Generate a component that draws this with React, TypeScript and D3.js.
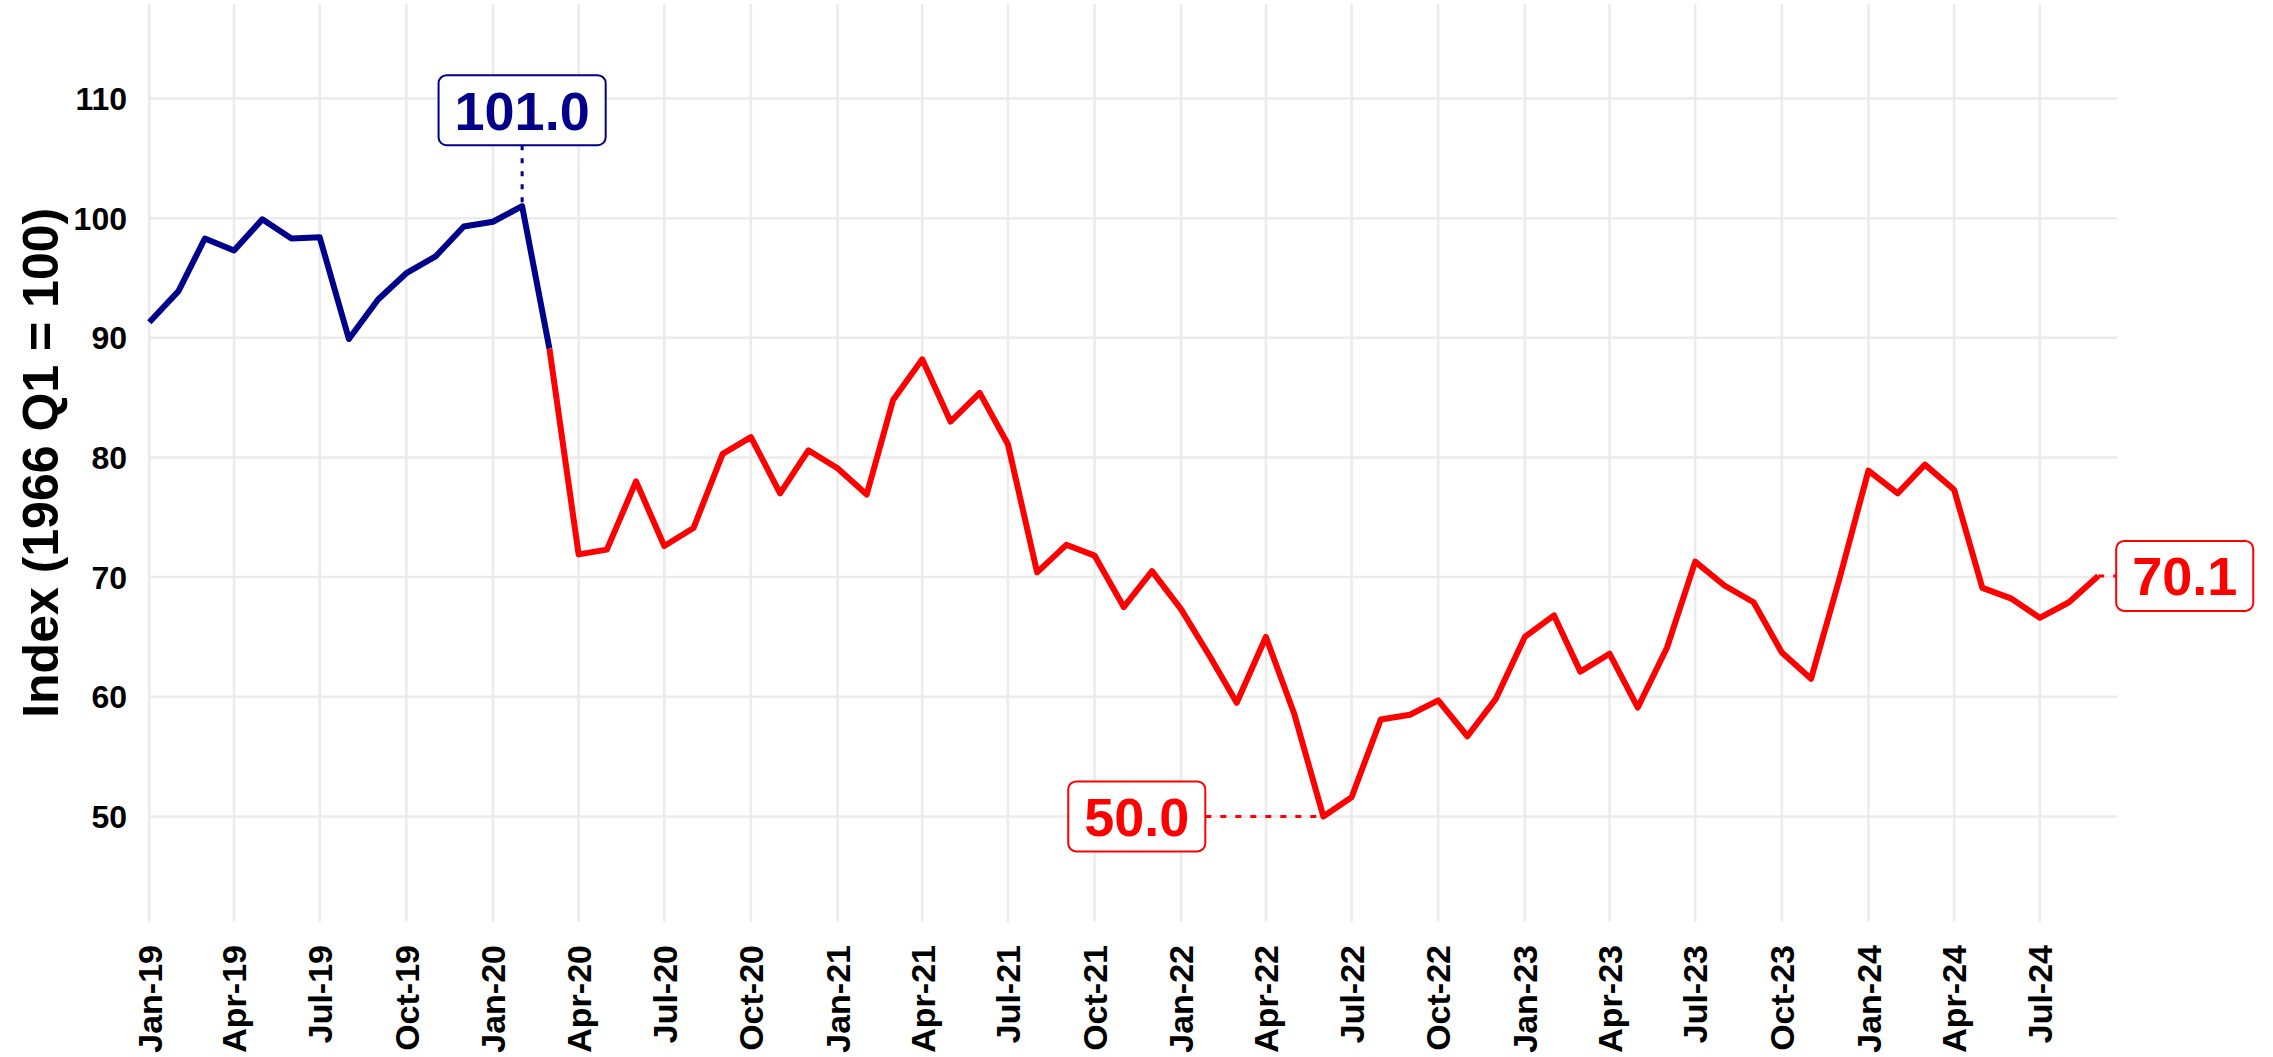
import React from "react";
import * as d3 from "d3";

const months: string[] = [
  "2019-01","2019-02","2019-03","2019-04","2019-05","2019-06","2019-07","2019-08","2019-09","2019-10","2019-11","2019-12",
  "2020-01","2020-02","2020-03","2020-04","2020-05","2020-06","2020-07","2020-08","2020-09","2020-10","2020-11","2020-12",
  "2021-01","2021-02","2021-03","2021-04","2021-05","2021-06","2021-07","2021-08","2021-09","2021-10","2021-11","2021-12",
  "2022-01","2022-02","2022-03","2022-04","2022-05","2022-06","2022-07","2022-08","2022-09","2022-10","2022-11","2022-12",
  "2023-01","2023-02","2023-03","2023-04","2023-05","2023-06","2023-07","2023-08","2023-09","2023-10","2023-11","2023-12",
  "2024-01","2024-02","2024-03","2024-04","2024-05","2024-06","2024-07","2024-08","2024-09",
];

const values: number[] = [
  91.3, 93.9, 98.3, 97.3, 99.9, 98.3, 98.4, 89.9, 93.2, 95.4, 96.8, 99.3,
  99.7, 101.0, 89.1, 71.9, 72.3, 78.0, 72.6, 74.1, 80.3, 81.7, 77.0, 80.6,
  79.1, 76.9, 84.8, 88.2, 83.0, 85.4, 81.1, 70.4, 72.7, 71.8, 67.5, 70.5,
  67.3, 63.3, 59.5, 65.0, 58.6, 50.0, 51.6, 58.1, 58.5, 59.7, 56.7, 59.8,
  65.0, 66.8, 62.1, 63.6, 59.1, 64.1, 71.3, 69.3, 67.9, 63.7, 61.5, 69.8,
  78.9, 77.0, 79.4, 77.3, 69.1, 68.2, 66.6, 67.9, 70.1,
];

// period split: blue up to and including this month, red from it onward
const splitMonth = "2020-03";

const yTicks: number[] = [50, 60, 70, 80, 90, 100, 110];
const xTickMonths: string[] = [
  "2019-01","2019-04","2019-07","2019-10","2020-01","2020-04","2020-07","2020-10",
  "2021-01","2021-04","2021-07","2021-10","2022-01","2022-04","2022-07","2022-10",
  "2023-01","2023-04","2023-07","2023-10","2024-01","2024-04","2024-07",
];

const yTitle = "Index (1966 Q1 = 100)";
const peakMonth = "2020-02";
const troughMonth = "2022-06";
const lastMonth = "2024-09";

const W = 2273;
const H = 1057;
const BLUE = "#00008B";
const RED = "#FF0000";
const GRID = "#EBEBEB";
const FONT = "'Liberation Sans', Arial, Helvetica, sans-serif";

const parse = d3.timeParse("%Y-%m");
const fmt = d3.timeFormat("%b-%y");

type Pt = { date: Date; value: number; key: string };

function labelWidth(text: string, size: number): number {
  let w = 0;
  for (const ch of text) w += ch === "." ? 0.278 : 0.556;
  return w * size;
}

export default function App() {
  const data: Pt[] = months.map((m, i) => ({ date: parse(m) as Date, value: values[i], key: m }));
  const splitIdx = months.indexOf(splitMonth);
  const blue = data.slice(0, splitIdx + 1);
  const red = data.slice(splitIdx);

  const x = d3
    .scaleTime()
    .domain([parse("2019-01") as Date, new Date(2024, 8, 21)])
    .range([149.3, 2117]);
  const y = d3.scaleLinear().domain([41.2, 117.9]).range([921.7, 4]);

  const line = d3
    .line<Pt>()
    .x((d) => x(d.date))
    .y((d) => y(d.value));

  const xTicks = xTickMonths.map((m) => parse(m) as Date);
  const plotTop = y(117.9);
  const plotBottom = y(41.2);
  const plotLeft = x.range()[0];
  const plotRight = x.range()[1];

  const LS = 54; // label font size
  const padX = 16;
  const boxH = 70;

  const peak = data.find((d) => d.key === peakMonth)!;
  const trough = data.find((d) => d.key === troughMonth)!;
  const last = data.find((d) => d.key === lastMonth)!;

  const renderLabel = (
    text: string,
    color: string,
    cx: number,
    cy: number
  ) => {
    const w = labelWidth(text, LS) + padX * 2;
    return (
      <g>
        <rect
          x={cx - w / 2}
          y={cy - boxH / 2}
          width={w}
          height={boxH}
          rx={8}
          ry={8}
          fill="#fff"
          stroke={color}
          strokeWidth={2}
        />
        <text
          x={cx}
          y={cy}
          dy="0.36em"
          textAnchor="middle"
          fontFamily={FONT}
          fontWeight="bold"
          fontSize={LS}
          fill={color}
        >
          {text}
        </text>
      </g>
    );
  };

  const peakX = x(peak.date);
  const peakY = y(peak.value);
  const peakBoxCy = peakY - 96;

  const troughX = x(trough.date);
  const troughY = y(trough.value);
  const troughText = trough.value.toFixed(1);
  const troughW = labelWidth(troughText, LS) + padX * 2;
  const troughBoxRight = troughX - 118;

  const lastX = x(last.date);
  const lastY = y(last.value);
  const lastText = last.value.toFixed(1);
  const lastW = labelWidth(lastText, LS) + padX * 2;
  const lastBoxLeft = lastX + 18;

  return (
    <svg
      width={W}
      height={H}
      style={{ position: "absolute", left: 0, top: 0, display: "block", background: "#fff" }}
    >
      <rect x={0} y={0} width={W} height={H} fill="#fff" />
      {yTicks.map((t) => (
        <line key={"gy" + t} x1={plotLeft} x2={plotRight} y1={y(t)} y2={y(t)} stroke={GRID} strokeWidth={2.5} />
      ))}
      {xTicks.map((t, i) => (
        <line key={"gx" + i} x1={x(t)} x2={x(t)} y1={plotTop} y2={plotBottom} stroke={GRID} strokeWidth={2.5} />
      ))}

      {yTicks.map((t) => (
        <text
          key={"ty" + t}
          x={127}
          y={y(t)}
          dy="0.36em"
          textAnchor="end"
          fontFamily={FONT}
          fontWeight="bold"
          fontSize={32}
          fill="#000"
        >
          {t}
        </text>
      ))}

      {xTicks.map((t, i) => (
        <text
          key={"tx" + i}
          transform={`translate(${x(t)},${945}) rotate(-90)`}
          dy="0.36em"
          textAnchor="end"
          fontFamily={FONT}
          fontWeight="bold"
          fontSize={34}
          fill="#000"
        >
          {fmt(t)}
        </text>
      ))}

      <text
        transform={`translate(58,${(plotTop + plotBottom) / 2}) rotate(-90)`}
        textAnchor="middle"
        fontFamily={FONT}
        fontWeight="bold"
        fontSize={50}
        fill="#000"
      >
        {yTitle}
      </text>

      <line x1={peakX} x2={peakX} y1={peakBoxCy + boxH / 2} y2={peakY} stroke={BLUE} strokeWidth={3} strokeDasharray="5,8" />
      <line x1={troughBoxRight} x2={troughX} y1={troughY} y2={troughY} stroke={RED} strokeWidth={3} strokeDasharray="6,9" />
      <line x1={lastX} x2={lastBoxLeft} y1={lastY} y2={lastY} stroke={RED} strokeWidth={3} strokeDasharray="6,9" />

      <path d={line(blue) || ""} fill="none" stroke={BLUE} strokeWidth={6} strokeLinejoin="round" />
      <path d={line(red) || ""} fill="none" stroke={RED} strokeWidth={6} strokeLinejoin="round" />

      {renderLabel(peak.value.toFixed(1), BLUE, peakX, peakBoxCy)}
      {renderLabel(troughText, RED, troughBoxRight - troughW / 2, troughY)}
      {renderLabel(lastText, RED, lastBoxLeft + lastW / 2, lastY)}
    </svg>
  );
}
